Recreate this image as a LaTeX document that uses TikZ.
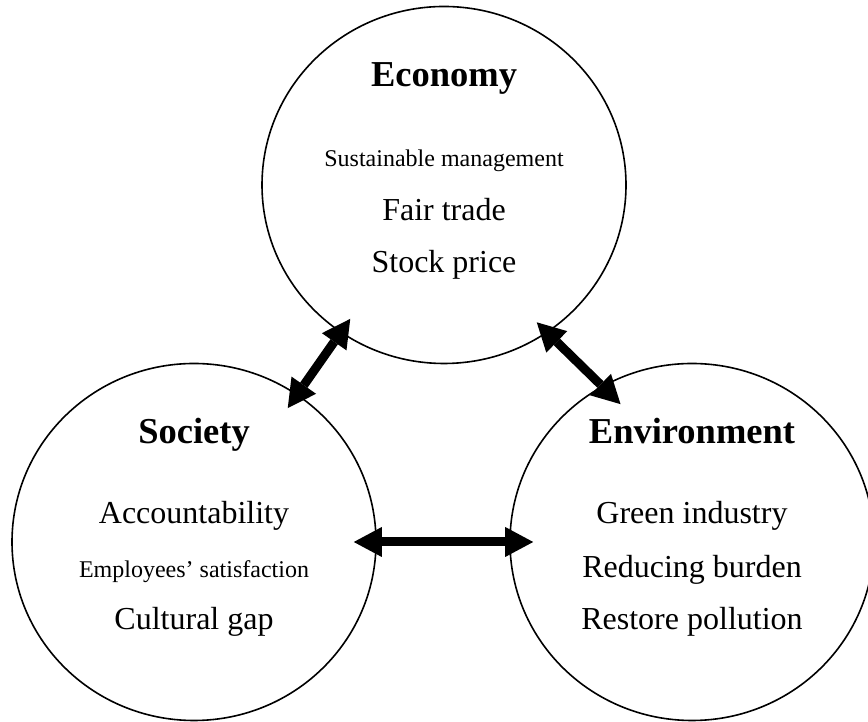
\documentclass[tikz,border=0pt]{standalone}
\usepackage{fontspec}
\setmainfont{Liberation Serif}
\usepackage{tikz}
\usetikzlibrary{arrows.meta,shapes.geometric}

\begin{document}
\begin{tikzpicture}[
  x=1pt,y=1pt,
  pillar/.style={draw,ellipse,line width=1.6pt,minimum width=364pt,minimum height=357pt,inner sep=0pt},
  head/.style={anchor=base,font=\fontsize{36.5}{40}\selectfont\bfseries},
  item/.style={anchor=base,font=\fontsize{32}{36}\selectfont},
  small/.style={anchor=base,font=\fontsize{24}{28}\selectfont},
  link/.style={{Triangle[length=28pt,width=30pt,line width=0pt]}-{Triangle[length=28pt,width=30pt,line width=0pt]},line width=9pt}
]
\useasboundingbox (0,0) rectangle (868,722);
% the three pillars
\node[pillar] (eco) at (444,537) {};
\node[pillar] (soc) at (194,180) {};
\node[pillar] (env) at (692,180) {};
% economy
\node[head]  (eco-t) at ([yshift=98pt]eco.center) {Economy};
\node[small] (eco-1) at ([yshift=18pt]eco.center) {Sustainable management};
\node[item]  (eco-2) at ([yshift=-36pt]eco.center) {Fair trade};
\node[item]  (eco-3) at ([yshift=-88pt]eco.center) {Stock price};
% society
\node[head]  (soc-t) at ([yshift=98pt]soc.center) {Society};
\node[item]  (soc-1) at ([yshift=18pt]soc.center) {Accountability};
\node[small] (soc-2) at ([yshift=-36pt]soc.center) {Employees’ satisfaction};
\node[item]  (soc-3) at ([yshift=-88pt]soc.center) {Cultural gap};
% environment
\node[head]  (env-t) at ([yshift=98pt]env.center) {Environment};
\node[item]  (env-1) at ([yshift=18pt]env.center) {Green industry};
\node[item]  (env-2) at ([yshift=-36pt]env.center) {Reducing burden};
\node[item]  (env-3) at ([yshift=-88pt]env.center) {Restore pollution};
% links
\draw[link,shorten <=-17pt,shorten >=-17pt] (eco) -- (soc);
\draw[link,shorten <=-15pt,shorten >=-26pt] (eco.305.4) -- (env.120.1);
\draw[link,shorten <=-23pt,shorten >=-24pt] (soc) -- (env);
\end{tikzpicture}
\end{document}
